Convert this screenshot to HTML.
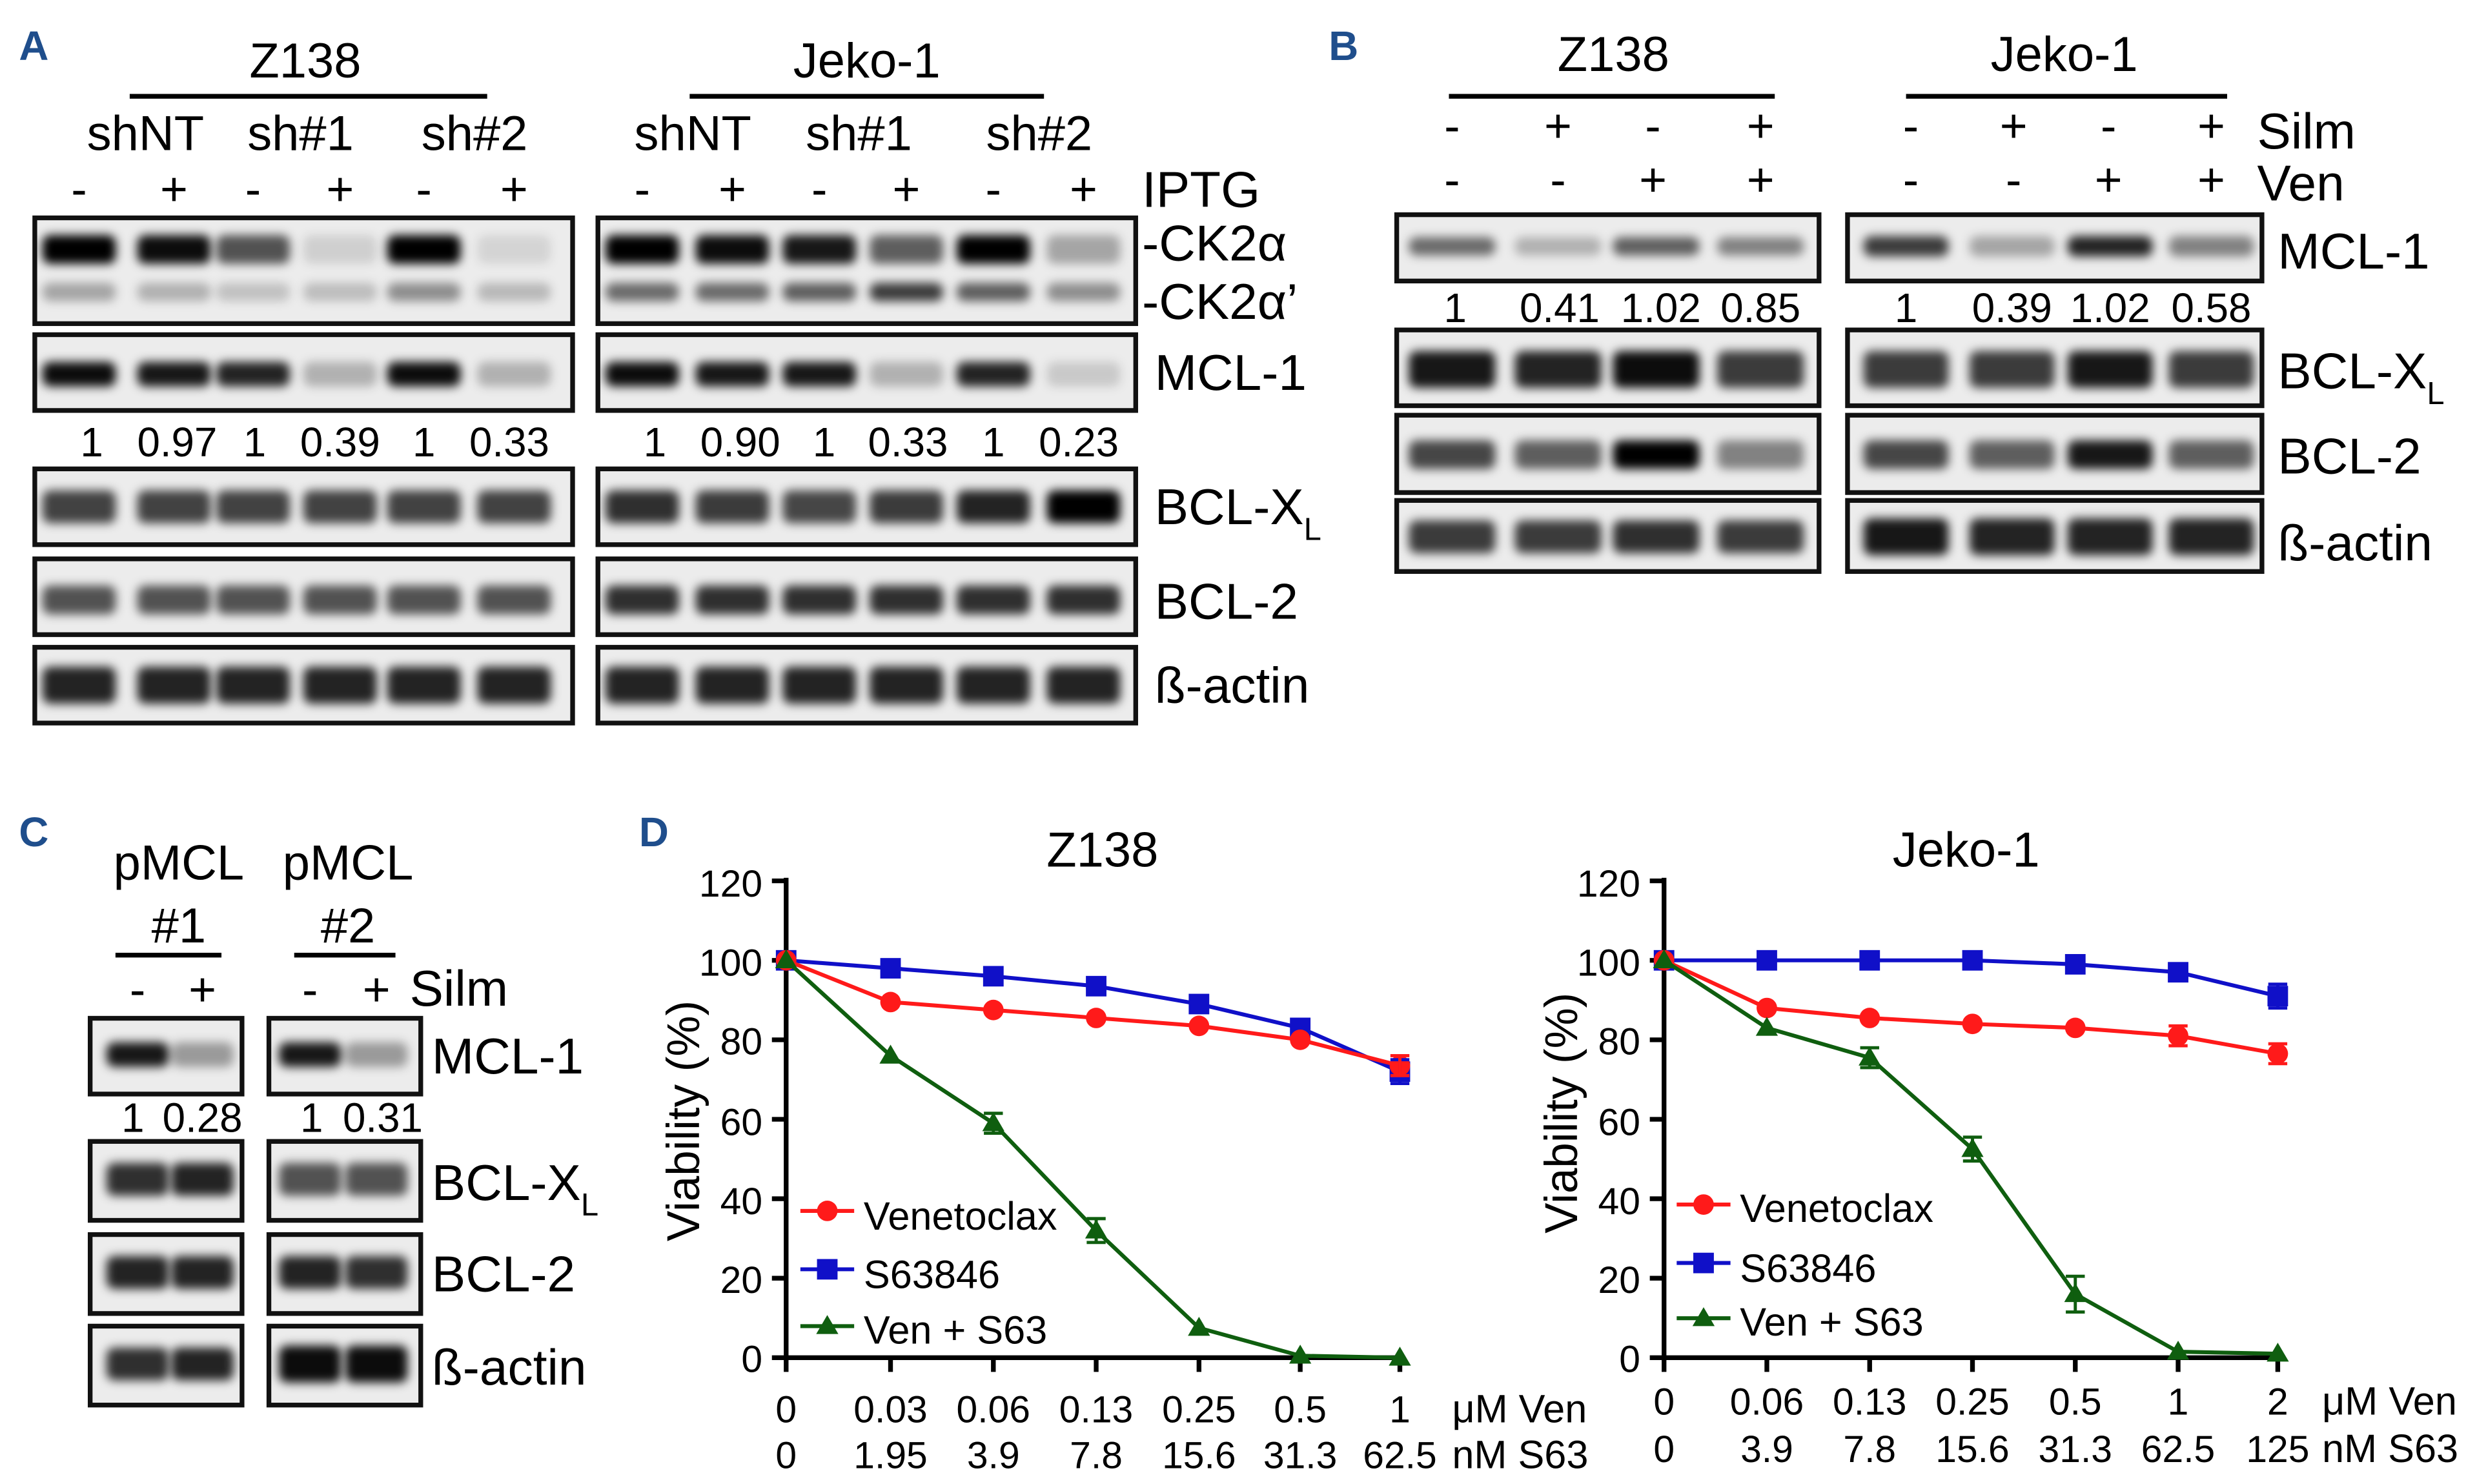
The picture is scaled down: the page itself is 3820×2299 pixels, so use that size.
<!DOCTYPE html>
<html><head><meta charset="utf-8"><style>
html,body{margin:0;padding:0;background:#fff}
svg{display:block}
text{font-family:"Liberation Sans Narrow","Liberation Sans",sans-serif;fill:#000}
.pl{font-family:"Liberation Sans",sans-serif;font-weight:bold;fill:#1f4e8c;font-size:26px}
</style></head><body>
<svg id="s" width="3820" height="2299" viewBox="0 0 1559 940" preserveAspectRatio="none" xmlns="http://www.w3.org/2000/svg">
<defs><filter id="b" x="-30%" y="-80%" width="160%" height="260%"><feGaussianBlur stdDeviation="3"/></filter></defs>
<g id="blots"></g>
<text class="pl" x="12" y="38">A</text>
<text class="pl" x="840" y="38">B</text>
<text class="pl" x="12" y="536">C</text>
<text class="pl" x="404" y="536">D</text>
<g font-size="31" text-anchor="middle">
<text x="193" y="49">Z138</text><text x="548" y="49">Jeko-1</text>
<text x="92" y="95">shNT</text><text x="190" y="95">sh#1</text><text x="300" y="95">sh#2</text>
<text x="438" y="95">shNT</text><text x="543" y="95">sh#1</text><text x="657" y="95">sh#2</text>
<text x="1020" y="45">Z138</text><text x="1305" y="45">Jeko-1</text>
<text x="113" y="557">pMCL</text><text x="113" y="597">#1</text>
<text x="220" y="557">pMCL</text><text x="220" y="597">#2</text>
<text x="697" y="549">Z138</text><text x="1243" y="549">Jeko-1</text>
</g>
<g stroke="#000" stroke-width="3">
<line x1="82" y1="61" x2="308" y2="61"/><line x1="436" y1="61" x2="660" y2="61"/>
<line x1="916" y1="61" x2="1122" y2="61"/><line x1="1205" y1="61" x2="1408" y2="61"/>
<line x1="73" y1="605" x2="140" y2="605"/><line x1="186" y1="605" x2="250" y2="605"/>
</g>
<g font-size="30" text-anchor="middle">
<text x="50" y="130">-</text><text x="110" y="130">+</text><text x="160" y="130">-</text><text x="215" y="130">+</text><text x="268" y="130">-</text><text x="325" y="130">+</text>
<text x="406" y="130">-</text><text x="463" y="130">+</text><text x="518" y="130">-</text><text x="573" y="130">+</text><text x="628" y="130">-</text><text x="685" y="130">+</text>
<text x="918" y="90">-</text><text x="985" y="90">+</text><text x="1045" y="90">-</text><text x="1113" y="90">+</text>
<text x="1208" y="90">-</text><text x="1273" y="90">+</text><text x="1333" y="90">-</text><text x="1398" y="90">+</text>
<text x="918" y="124">-</text><text x="985" y="124">-</text><text x="1045" y="124">+</text><text x="1113" y="124">+</text>
<text x="1208" y="124">-</text><text x="1273" y="124">-</text><text x="1333" y="124">+</text><text x="1398" y="124">+</text>
<text x="87" y="637">-</text><text x="128" y="637">+</text><text x="196" y="637">-</text><text x="238" y="637">+</text>
</g>
<g font-size="32">
<text x="722" y="131">IPTG</text>
<text x="1427" y="94">Silm</text><text x="1427" y="127">Ven</text>
<text x="259" y="637">Silm</text>
<text x="722" y="165">-CK2α</text><text x="722" y="202">-CK2α’</text>
<text x="730" y="247">MCL-1</text>
<text x="730" y="332">BCL-X<tspan font-size="20" dy="10">L</tspan></text>
<text x="730" y="392">BCL-2</text>
<text x="730" y="445">ß-actin</text>
<text x="1440" y="170">MCL-1</text>
<text x="1440" y="246">BCL-X<tspan font-size="20" dy="10">L</tspan></text>
<text x="1440" y="300">BCL-2</text>
<text x="1440" y="355">ß-actin</text>
<text x="273" y="680">MCL-1</text>
<text x="273" y="760">BCL-X<tspan font-size="20" dy="10">L</tspan></text>
<text x="273" y="818">BCL-2</text>
<text x="273" y="877">ß-actin</text>
</g>
<g font-size="26" text-anchor="middle">
<text x="58" y="289">1</text><text x="112" y="289">0.97</text><text x="161" y="289">1</text><text x="215" y="289">0.39</text><text x="268" y="289">1</text><text x="322" y="289">0.33</text>
<text x="414" y="289">1</text><text x="468" y="289">0.90</text><text x="521" y="289">1</text><text x="574" y="289">0.33</text><text x="628" y="289">1</text><text x="682" y="289">0.23</text>
<text x="920" y="204">1</text><text x="986" y="204">0.41</text><text x="1050" y="204">1.02</text><text x="1113" y="204">0.85</text>
<text x="1205" y="204">1</text><text x="1272" y="204">0.39</text><text x="1334" y="204">1.02</text><text x="1398" y="204">0.58</text>
<text x="84" y="717">1</text><text x="128" y="717">0.28</text><text x="197" y="717">1</text><text x="242" y="717">0.31</text>
</g>
<g id="charts"></g>
<g font-size="25">
<text x="546" y="779">Venetoclax</text><text x="546" y="816">S63846</text><text x="546" y="851">Ven + S63</text>
<text x="1100" y="774">Venetoclax</text><text x="1100" y="812">S63846</text><text x="1100" y="846">Ven + S63</text>
<text x="918" y="901">μM Ven</text><text x="918" y="930">nM S63</text>
<text x="1468" y="896">μM Ven</text><text x="1468" y="926">nM S63</text>
</g>
<g font-size="24" text-anchor="end">
<text x="482" y="568">120</text><text x="482" y="618">100</text><text x="482" y="668">80</text><text x="482" y="719">60</text><text x="482" y="769">40</text><text x="482" y="819">20</text><text x="482" y="869">0</text>
<text x="1037" y="568">120</text><text x="1037" y="618">100</text><text x="1037" y="668">80</text><text x="1037" y="719">60</text><text x="1037" y="769">40</text><text x="1037" y="819">20</text><text x="1037" y="869">0</text>
</g>
<g font-size="24" text-anchor="middle">
<text x="497" y="901">0</text><text x="563" y="901">0.03</text><text x="628" y="901">0.06</text><text x="693" y="901">0.13</text><text x="758" y="901">0.25</text><text x="822" y="901">0.5</text><text x="885" y="901">1</text>
<text x="497" y="930">0</text><text x="563" y="930">1.95</text><text x="628" y="930">3.9</text><text x="693" y="930">7.8</text><text x="758" y="930">15.6</text><text x="822" y="930">31.3</text><text x="885" y="930">62.5</text>
<text x="1052" y="896">0</text><text x="1117" y="896">0.06</text><text x="1182" y="896">0.13</text><text x="1247" y="896">0.25</text><text x="1312" y="896">0.5</text><text x="1377" y="896">1</text><text x="1440" y="896">2</text>
<text x="1052" y="926">0</text><text x="1117" y="926">3.9</text><text x="1182" y="926">7.8</text><text x="1247" y="926">15.6</text><text x="1312" y="926">31.3</text><text x="1377" y="926">62.5</text><text x="1440" y="926">125</text>
</g>
<g font-size="29" text-anchor="middle">
<text transform="translate(442,710) rotate(-90)">Viability (%)</text>
<text transform="translate(997,705) rotate(-90)">Viability (%)</text>
</g>
</svg>
<script>
var NS="http://www.w3.org/2000/svg";
function el(p,t,a){var e=document.createElementNS(NS,t);for(var k in a)e.setAttribute(k,a[k]);p.appendChild(e);return e;}
var B=document.getElementById("blots");
function blot(x0,y0,x1,y1,lanes,bands){
 el(B,"rect",{x:x0,y:y0,width:x1-x0,height:y1-y0,fill:"#ececec"});
 var lw=(x1-x0)/lanes.length*0.82;
 bands.forEach(function(bd){
  lanes.forEach(function(cx,i){
   var v=bd.v[i],h=bd.h*1.3;
   el(B,"rect",{x:cx-lw/2,y:bd.y-h/2,width:lw,height:h,rx:5,fill:"rgb(0,0,0)","fill-opacity":v,filter:"url(#b)"});
  });
 });
 el(B,"rect",{x:x0,y:y0,width:x1-x0,height:y1-y0,fill:"none",stroke:"#111","stroke-width":3});
}
function rep(v,n){var a=[];for(var i=0;i<n;i++)a.push(v);return a;}
var LZ=[50,110,160,215,268,325],LJ=[406,463,518,573,628,685];
blot(22,138,362,205,LZ,[{y:158,h:14,v:[1,.95,.65,.12,1,.1]},{y:185,h:9,v:[.3,.25,.18,.2,.4,.22]}]);
blot(378,138,718,205,LJ,[{y:158,h:14,v:[1,.95,.9,.6,1,.3]},{y:185,h:9,v:[.55,.55,.6,.75,.6,.4]}]);
blot(22,212,362,260,LZ,[{y:237,h:12,v:[.95,.9,.85,.25,.95,.25]}]);
blot(378,212,718,260,LJ,[{y:237,h:12,v:[.95,.9,.9,.25,.85,.15]}]);
blot(22,297,362,345,LZ,[{y:321,h:16,v:rep(.72,6)}]);
blot(378,297,718,345,LJ,[{y:321,h:16,v:[.8,.75,.7,.75,.85,1]}]);
blot(22,354,362,402,LZ,[{y:380,h:14,v:rep(.65,6)}]);
blot(378,354,718,402,LJ,[{y:380,h:14,v:rep(.8,6)}]);
blot(22,410,362,458,LZ,[{y:434,h:18,v:rep(.85,6)}]);
blot(378,410,718,458,LJ,[{y:434,h:18,v:rep(.85,6)}]);
var BZ=[918,985,1047,1113],BJ=[1205,1272,1334,1398];
blot(883,136,1150,178,BZ,[{y:156,h:9,v:[.55,.25,.6,.45]}]);
blot(1168,136,1430,178,BJ,[{y:156,h:10,v:[.75,.3,.85,.45]}]);
blot(883,209,1150,257,BZ,[{y:234,h:18,v:[.9,.85,.95,.75]}]);
blot(1168,209,1430,257,BJ,[{y:234,h:18,v:[.75,.75,.9,.75]}]);
blot(883,263,1150,312,BZ,[{y:288,h:14,v:[.7,.6,1,.45]}]);
blot(1168,263,1430,312,BJ,[{y:288,h:14,v:[.7,.6,.9,.6]}]);
blot(883,317,1150,362,BZ,[{y:340,h:16,v:[.75,.75,.8,.75]}]);
blot(1168,317,1430,362,BJ,[{y:340,h:18,v:[.9,.85,.85,.85]}]);
var CA=[87,128],CB=[196,238];
blot(57,645,153,693,CA,[{y:668,h:12,v:[.9,.35]}]);
blot(170,645,266,693,CB,[{y:668,h:12,v:[.9,.35]}]);
blot(57,723,153,773,CA,[{y:747,h:16,v:[.8,.85]}]);
blot(170,723,266,773,CB,[{y:747,h:16,v:[.65,.65]}]);
blot(57,782,153,832,CA,[{y:806,h:16,v:[.85,.85]}]);
blot(170,782,266,832,CB,[{y:806,h:16,v:[.85,.8]}]);
blot(57,840,153,890,CA,[{y:864,h:16,v:[.8,.85]}]);
blot(170,840,266,890,CB,[{y:864,h:18,v:[.95,.95]}]);
var C=document.getElementById("charts");
function Y(v){return 860-v*2.517;}
function chart(ax,xs,ven,s63,cmb,leg){
 el(C,"line",{x1:ax,y1:556,x2:ax,y2:861,stroke:"#000","stroke-width":3});
 el(C,"line",{x1:ax-1,y1:860,x2:xs[6]+2,y2:860,stroke:"#000","stroke-width":3});
 for(var i=0;i<=6;i++)el(C,"line",{x1:ax-9,y1:Y(i*20),x2:ax,y2:Y(i*20),stroke:"#000","stroke-width":3});
 xs.forEach(function(x){el(C,"line",{x1:x,y1:860,x2:x,y2:869,stroke:"#000","stroke-width":3});});
 function series(d,col,mk){
  el(C,"polyline",{points:xs.map(function(x,i){return x+","+Y(d[i]);}).join(" "),fill:"none",stroke:col,"stroke-width":2.5});
  xs.forEach(function(x,i){marker(x,Y(d[i]),col,mk);});
 }
 function marker(x,y,col,mk){
  if(mk==0)el(C,"circle",{cx:x,cy:y,r:6.5,fill:col});
  else if(mk==1)el(C,"rect",{x:x-6.5,y:y-6.5,width:13,height:13,fill:col});
  else el(C,"polygon",{points:(x)+","+(y-7)+" "+(x-7)+","+(y+5)+" "+(x+7)+","+(y+5),fill:col});
 }
 function err(x,v,e,col){el(C,"path",{d:"M"+(x-6)+","+Y(v+e)+"h12M"+x+","+Y(v+e)+"V"+Y(v-e)+"M"+(x-6)+","+Y(v-e)+"h12",stroke:col,"stroke-width":2,fill:"none"});}
 series(s63,"#1010c8",1);series(ven,"#ff1a1a",0);series(cmb,"#0f5e0f",2);
 err(xs[6],s63[6],3,"#1010c8");err(xs[6],ven[6],2.5,"#ff1a1a");err(xs[2],cmb[2],2.5,"#0f5e0f");err(xs[3],cmb[3],3,"#0f5e0f");
 if(leg.e){err(xs[4],cmb[4],4.5,"#0f5e0f");err(xs[5],ven[5],2.5,"#ff1a1a");}
 var lx=leg.x,cols=["#ff1a1a","#1010c8","#0f5e0f"];
 leg.y.forEach(function(y,i){el(C,"line",{x1:lx-12,y1:y,x2:lx+22,y2:y,stroke:cols[i],"stroke-width":2.5});marker(lx+5,y,cols[i],i);});
}
chart(497,[497,563,628,693,758,822,885],[100,89.5,87.5,85.5,83.5,80,73.5],[100,98,96,93.5,89,83,72],[100,76,59,32,7.5,0.5,0],{x:518,y:[767,804,840]});
chart(1052,[1052,1117,1182,1247,1312,1377,1440],[100,88,85.5,84,83,81,76.5],[100,100,100,100,99,97,91],[100,83,75.5,52.5,16,1.5,1],{x:1072,y:[763,800,835],e:1});
</script>
</body></html>
